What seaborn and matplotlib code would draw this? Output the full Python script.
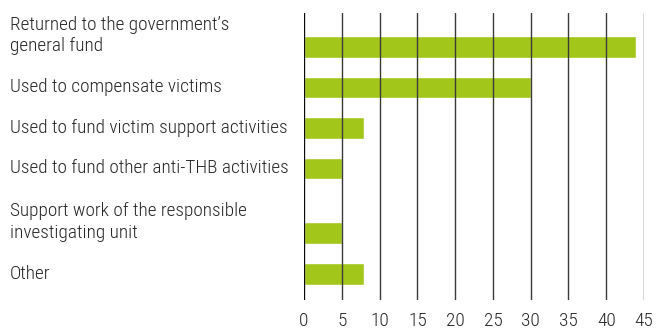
import matplotlib
matplotlib.use("Agg")
import matplotlib.pyplot as plt
import matplotlib.transforms as mtransforms
import seaborn as sns
import numpy as np
import pandas as pd

categories = [
    "Returned to the government\u2019s\ngeneral fund",
    "Used to compensate victims",
    "Used to fund victim support activities",
    "Used to fund other anti-THB activities",
    "Support work of the responsible\ninvestigating unit",
    "Other",
]
values = [44, 30, 8, 5, 5, 8]
xticks = [0, 5, 10, 15, 20, 25, 30, 35, 40, 45]

sns.set_theme(style="white")
plt.rcParams["font.family"] = ["Roboto Condensed", "Liberation Sans Narrow", "DejaVu Sans Condensed", "DejaVu Sans"]

BAR = "#a2c61a"
TXT = "#262626"
FS = 13.9
WEIGHT = "light"

# vertical layout derived from number of label lines
lines = [c.count("\n") + 1 for c in categories]
extra = 0.6
pos = [0.0]
for i in range(1, len(categories)):
    pos.append(pos[-1] + 1 + extra * (lines[i] - 1))

df = pd.DataFrame({"pos": pos, "value": values, "label": categories})

fig = plt.figure(figsize=(6.56, 3.32), dpi=100)
ax = fig.add_axes([304 / 656, 1 - 300 / 332, 340 / 656, 287 / 332])

sns.barplot(data=df, x="value", y="pos", orient="y", native_scale=True,
            color=BAR, saturation=1, width=0.54, errorbar=None, ax=ax)

ax.set_xlim(0, 45)
ax.set_ylim(pos[-1] + 0.65, -extra * (lines[0] - 1) - 0.24)
ax.set_xticks(xticks)
ax.set_xticklabels([str(t) for t in xticks], fontsize=FS, color=TXT, fontweight=WEIGHT)
ax.set_yticks([])
ax.set_xlabel("")
ax.set_ylabel("")
ax.tick_params(axis="x", length=0, pad=8.5)
for s in ax.spines.values():
    s.set_visible(False)
ax.set_axisbelow(False)
ax.grid(axis="x", color="#3a3a3a", linewidth=1.0)
ax.grid(axis="y", visible=False)
ax.axvline(0, color="black", linewidth=1.2, zorder=3)

line_px = 23
trans = mtransforms.blended_transform_factory(fig.transFigure, ax.transData)
for p, lab, n in zip(pos, categories, lines):
    t = mtransforms.offset_copy(trans, fig=fig, y=(n - 1) * line_px / 2, units="dots")
    ax.text(10 / 656, p, lab, transform=t, ha="left", va="center",
            fontsize=FS, color=TXT, linespacing=1.28, fontweight=WEIGHT)

fig.savefig("out.png", dpi=100)
